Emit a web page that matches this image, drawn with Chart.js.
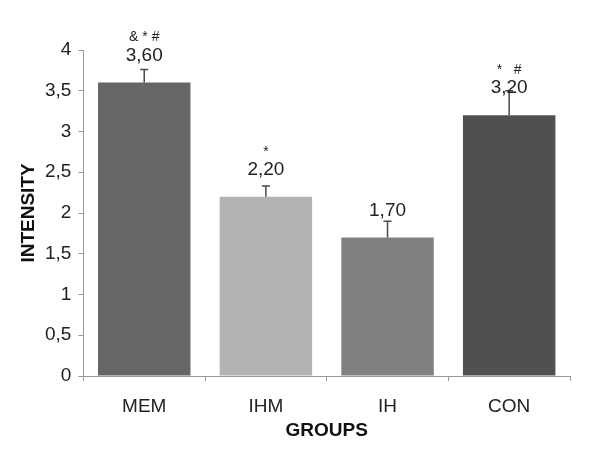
<!doctype html>
<html lang="en">
  <head>
    <meta charset="utf-8">
    <title>Intensity by group</title>
    <script src="https://cdn.jsdelivr.net/npm/chart.js@4"></script>
    <style>
      html, body { margin: 0; padding: 0; background: #fff; }
      #wrap { width: 600px; height: 450px; }
    </style>
  </head>
  <body>
<div id="wrap"><canvas id="chart"></canvas></div>
<script>
  // data
  var groups = ['MEM', 'IHM', 'IH', 'CON'];
  var intensity = [3.60, 2.20, 1.70, 3.20];
  var errorUp = [0.16, 0.13, 0.20, 0.30];
  var marks = ['& * #', '*', '', '*   #'];
  var barColors = ['#666666', '#b3b3b3', '#808080', '#505050'];

  var font = 'Liberation Sans, Arial, sans-serif';

  function comma(v) {
    return String(v).replace('.', ',');
  }

  // upper error whiskers + value labels + significance marks
  var annotate = {
    id: 'annotate',
    afterDatasetsDraw: function(chart) {
      var ctx = chart.ctx;
      var y = chart.scales.y;
      var meta = chart.getDatasetMeta(0);
      ctx.save();
      meta.data.forEach(function(bar, i) {
        var top = y.getPixelForValue(intensity[i]);
        var hi = y.getPixelForValue(intensity[i] + errorUp[i]);
        ctx.strokeStyle = '#4a4a4a';
        ctx.lineWidth = 1.5;
        ctx.beginPath();
        ctx.moveTo(bar.x, top);
        ctx.lineTo(bar.x, hi);
        ctx.moveTo(bar.x - 4, hi);
        ctx.lineTo(bar.x + 4, hi);
        ctx.stroke();

        ctx.fillStyle = '#222';
        ctx.textAlign = 'center';
        ctx.textBaseline = 'middle';
        ctx.font = '19px ' + font;
        ctx.fillText(intensity[i].toFixed(2).replace('.', ','), bar.x, top - 27);
        if (marks[i]) {
          ctx.font = '14px ' + font;
          ctx.fillText(marks[i], bar.x, top - 45);
        }
      });
      ctx.restore();
    }
  };

  new Chart(document.getElementById('chart'), {
    type: 'bar',
    data: {
      labels: groups,
      datasets: [{
        data: intensity,
        backgroundColor: barColors,
        borderWidth: 0,
        barPercentage: 0.76,
        categoryPercentage: 1
      }]
    },
    options: {
      responsive: true,
      maintainAspectRatio: false,
      animation: false,
      layout: { padding: { top: 50, right: 30, bottom: 10, left: 19 } },
      plugins: {
        legend: { display: false },
        tooltip: { enabled: false }
      },
      scales: {
        x: {
          grid: { drawOnChartArea: false, drawTicks: true, tickLength: 5, color: '#999', offset: true },
          border: { color: '#999' },
          ticks: { color: '#222', font: { family: font, size: 19, lineHeight: 1 }, padding: 16 },
          title: { display: true, text: 'GROUPS', color: '#111', font: { family: font, size: 19, weight: 'bold', lineHeight: 1 }, padding: { top: -11, bottom: 0 } }
        },
        y: {
          min: 0,
          max: 4,
          grid: { drawOnChartArea: false, drawTicks: true, tickLength: 5, color: '#999' },
          border: { color: '#999' },
          ticks: {
            stepSize: 0.5,
            color: '#222',
            font: { family: font, size: 19 },
            padding: 7,
            callback: function(v) { return comma(v); }
          },
          title: { display: true, text: 'INTENSITY', color: '#111', font: { family: font, size: 19, weight: 'bold', lineHeight: 1 }, padding: { top: 0, bottom: 0 } }
        }
      }
    },
    plugins: [annotate]
  });
</script>
  </body>
</html>
